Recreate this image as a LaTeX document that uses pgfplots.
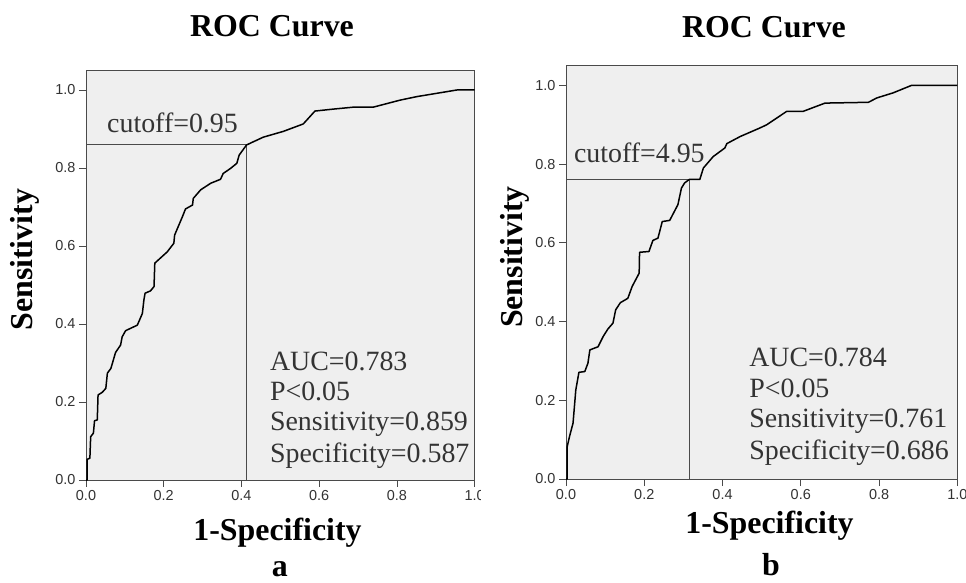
\documentclass[border=0pt]{standalone}
\usepackage{fontspec}
\setmainfont{Liberation Serif}
\newfontfamily\tickfont{Liberation Sans}
\usepackage{pgfplots}
\usepackage{pgfplotstable}
\pgfplotsset{compat=1.18}
\definecolor{plotbg}{HTML}{EFEFEF}
\definecolor{framec}{HTML}{4A4A4A}
\definecolor{txtc}{HTML}{333333}

\pgfplotstableread{
x y
0 0
0.003 0.000
0.003 0.053
0.010 0.056
0.012 0.111
0.019 0.120
0.022 0.152
0.029 0.154
0.031 0.218
0.042 0.225
0.051 0.235
0.055 0.274
0.064 0.286
0.076 0.327
0.089 0.346
0.093 0.367
0.102 0.383
0.132 0.397
0.145 0.427
0.149 0.462
0.152 0.479
0.166 0.485
0.175 0.496
0.177 0.556
0.209 0.585
0.226 0.607
0.228 0.628
0.248 0.675
0.256 0.695
0.274 0.705
0.276 0.722
0.295 0.744
0.321 0.761
0.346 0.771
0.353 0.786
0.372 0.799
0.388 0.812
0.394 0.833
0.413 0.859
0.430 0.867
0.456 0.879
0.508 0.894
0.559 0.913
0.589 0.946
0.636 0.951
0.688 0.956
0.739 0.956
0.808 0.974
0.851 0.983
0.954 1.000
1 1
}\rocA

\pgfplotstableread{
x y
0 0
0.003 0.000
0.003 0.082
0.009 0.108
0.018 0.142
0.025 0.226
0.033 0.271
0.048 0.273
0.056 0.294
0.061 0.328
0.082 0.336
0.095 0.362
0.107 0.381
0.120 0.396
0.127 0.430
0.139 0.448
0.158 0.459
0.169 0.489
0.187 0.523
0.188 0.576
0.212 0.578
0.222 0.606
0.235 0.612
0.246 0.654
0.265 0.657
0.286 0.697
0.295 0.739
0.303 0.752
0.315 0.761
0.342 0.761
0.351 0.790
0.376 0.819
0.406 0.841
0.411 0.852
0.445 0.870
0.496 0.892
0.513 0.900
0.564 0.934
0.606 0.934
0.662 0.955
0.773 0.957
0.794 0.968
0.836 0.981
0.883 1.000
1 1
}\rocB

\tikzset{annot/.style={anchor=base west, font=\fontsize{28}{30}\selectfont, text=txtc, inner sep=0pt}}

\pgfplotsset{
  rocstyle/.style={
    scale only axis,
    anchor=south west,
    xmin=0, xmax=1, ymin=0, ymax=1.05,
    axis background/.style={fill=plotbg},
    axis line style={framec, line width=0.9bp},
    xtick={0,0.2,0.4,0.6,0.8,1},
    ytick={0,0.2,0.4,0.6,0.8,1},
    tick align=outside,
    tick pos=left,
    major tick length=7bp,
    every tick/.style={framec, line width=0.9bp},
    ticklabel style={font=\tickfont\fontsize{14.5}{15}\selectfont, text=txtc},
    /pgf/number format/.cd, fixed, fixed zerofill, precision=1, assume math mode=true,
    /pgfplots/.cd,
    title={ROC Curve},
    xlabel={1-Specificity},
    ylabel={Sensitivity},
    label style={font=\bfseries\fontsize{32}{34}\selectfont},
    every axis title/.style={font=\bfseries\fontsize{32}{34}\selectfont, anchor=base},
    clip=false,
  },
}

\begin{document}
\begin{tikzpicture}
\useasboundingbox (0,0) rectangle (966bp,583bp);
\begin{scope}
\clip (0,0) rectangle (480bp,583bp);
\begin{axis}[rocstyle,
  at={(86bp,103bp)}, width=388.7bp, height=409.5bp,
  title style={at={(axis description cs:0.4785,1.083)}},
  xlabel style={at={(axis description cs:0.4927,-0.1467)}, anchor=base},
  ylabel style={at={(axis description cs:-0.1364,0.538)}, anchor=base},
]
\addplot[framec, line width=1bp] coordinates {(0,0.859) (0.413,0.859) (0.413,0)};
\addplot[black, line width=1.5bp, line join=round] table[x=x,y=y] {\rocA};
\node[annot] at (axis cs:0.054,0.892) {cutoff=0.95};
\node[annot] at (axis cs:0.473,0.282) {AUC=0.783};
\node[annot] at (axis cs:0.473,0.205) {P<0.05};
\node[annot] at (axis cs:0.473,0.126) {Sensitivity=0.859};
\node[annot] at (axis cs:0.473,0.046) {Specificity=0.587};
\node[font=\bfseries\fontsize{32}{34}\selectfont, anchor=base] at (axis description cs:0.499,-0.236) {a};
\end{axis}
\end{scope}
\begin{axis}[rocstyle,
  at={(566bp,104bp)}, width=391.3bp, height=413.3bp,
  title style={at={(axis description cs:0.506,1.069)}},
  xlabel style={at={(axis description cs:0.52,-0.1307)}, anchor=base},
  ylabel style={at={(axis description cs:-0.110,0.537)}, anchor=base},
]
\addplot[framec, line width=1bp] coordinates {(0,0.761) (0.315,0.761) (0.315,0)};
\addplot[black, line width=1.5bp, line join=round] table[x=x,y=y] {\rocB};
\node[annot] at (axis cs:0.020,0.803) {cutoff=4.95};
\node[annot] at (axis cs:0.468,0.287) {AUC=0.784};
\node[annot] at (axis cs:0.468,0.208) {P<0.05};
\node[annot] at (axis cs:0.468,0.130) {Sensitivity=0.761};
\node[annot] at (axis cs:0.468,0.050) {Specificity=0.686};
\node[font=\bfseries\fontsize{32}{34}\selectfont, anchor=base] at (axis description cs:0.524,-0.234) {b};
\end{axis}
\end{tikzpicture}
\end{document}
